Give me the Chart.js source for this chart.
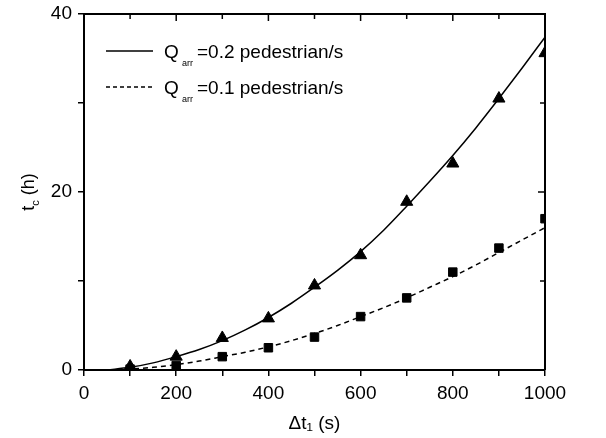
<!DOCTYPE html>
<html>
<head>
<meta charset="utf-8">
<script src="https://cdn.jsdelivr.net/npm/chart.js@4.4.1/dist/chart.umd.min.js"></script>
<style>
  html, body { margin: 0; padding: 0; background: #fff; }
  #box { width: 606px; height: 438px; }
</style>
</head>
<body>
<div id="box"><canvas id="grafico"></canvas></div>
<script>
// dados
const tempos = [100, 200, 300, 400, 500, 600, 700, 800, 900, 1000];
const pontosQ02 = [0.4, 1.5, 3.6, 5.8, 9.5, 12.9, 18.9, 23.2, 30.5, 35.6];
const pontosQ01 = [0.1, 0.5, 1.5, 2.5, 3.7, 6.0, 8.1, 11.0, 13.7, 17.0];

const temposCurva = [50, 100, 150, 200, 250, 300, 350, 400, 450, 500, 550, 600, 650, 700, 750, 800, 850, 900, 950, 1000];
const curvaQ02 = [0, 0.3, 0.8, 1.5, 2.3, 3.3, 4.5, 5.9, 7.5, 9.3, 11.2, 13.3, 15.7, 18.4, 21.2, 24.1, 27.2, 30.5, 33.9, 37.4];
const curvaQ01 = [0, 0.1, 0.3, 0.6, 1.0, 1.5, 2.0, 2.6, 3.3, 4.1, 5.0, 6.0, 7.0, 8.1, 9.3, 10.5, 11.8, 13.2, 14.6, 16.0];

const legendas = [
    { valor: '=0.2 pedestrian/s', tracejado: false },
    { valor: '=0.1 pedestrian/s', tracejado: true }
];

const fonte = '"Liberation Sans", Arial, sans-serif';

function pares(xs, ys) {
    return xs.map((x, i) => ({ x: x, y: ys[i] }));
}

// moldura superior/direita com ticks para dentro, titulo do eixo y e legenda
const moldura = {
    id: 'moldura',
    afterDraw(chart) {
        const ctx = chart.ctx;
        const a = chart.chartArea;
        const sx = chart.scales.x;
        const sy = chart.scales.y;
        ctx.save();
        ctx.strokeStyle = '#000';
        ctx.lineWidth = 2;
        ctx.beginPath();
        ctx.moveTo(a.left, a.top);
        ctx.lineTo(a.right, a.top);
        ctx.lineTo(a.right, a.bottom);
        ctx.stroke();
        ctx.lineWidth = 1.5;
        for (let v = 100; v < 1000; v += 100) {
            const px = sx.getPixelForValue(v);
            const len = v % 200 === 0 ? 7 : 5;
            ctx.beginPath();
            ctx.moveTo(px, a.top);
            ctx.lineTo(px, a.top + len);
            ctx.stroke();
        }
        for (let v = 10; v < 40; v += 10) {
            const py = sy.getPixelForValue(v);
            const len = v % 20 === 0 ? 7 : 5;
            ctx.beginPath();
            ctx.moveTo(a.right, py);
            ctx.lineTo(a.right - len, py);
            ctx.stroke();
        }

        // titulo do eixo y: t com subscrito c
        ctx.fillStyle = '#000';
        ctx.save();
        ctx.translate(34, (a.top + a.bottom) / 2);
        ctx.rotate(-Math.PI / 2);
        ctx.textBaseline = 'alphabetic';
        ctx.font = '18px ' + fonte;
        const wT = ctx.measureText('t').width;
        const wH = ctx.measureText(' (h)').width;
        ctx.font = '11px ' + fonte;
        const wC = ctx.measureText('c').width;
        let x0 = -(wT + wC + wH) / 2;
        ctx.font = '18px ' + fonte;
        ctx.fillText('t', x0, 0);
        ctx.font = '11px ' + fonte;
        ctx.fillText('c', x0 + wT, 5);
        ctx.font = '18px ' + fonte;
        ctx.fillText(' (h)', x0 + wT + wC, 0);
        ctx.restore();

        // legenda
        legendas.forEach((l, i) => {
            const y = 51 + i * 36;
            ctx.lineWidth = 1.3;
            ctx.setLineDash(l.tracejado ? [4, 3] : []);
            ctx.beginPath();
            ctx.moveTo(106, y);
            ctx.lineTo(153, y);
            ctx.stroke();
            ctx.setLineDash([]);
            ctx.textBaseline = 'alphabetic';
            ctx.font = '19px ' + fonte;
            ctx.fillText('Q', 164, y + 7);
            ctx.font = '9px ' + fonte;
            ctx.fillText('arr', 182, y + 15);
            ctx.font = '19px ' + fonte;
            ctx.fillText(l.valor, 197, y + 7);
        });
        ctx.restore();
    }
};

const ctx = document.getElementById('grafico').getContext('2d');
new Chart(ctx, {
    type: 'scatter',
    data: {
        datasets: [
            {
                label: 'Qarr=0.2 pedestrian/s',
                data: pares(temposCurva, curvaQ02),
                showLine: true,
                borderColor: '#000',
                borderWidth: 1.5,
                pointRadius: 0,
                cubicInterpolationMode: 'monotone'
            },
            {
                label: 'Qarr=0.1 pedestrian/s',
                data: pares(temposCurva, curvaQ01),
                showLine: true,
                borderColor: '#000',
                borderWidth: 1.5,
                borderDash: [5, 4],
                pointRadius: 0,
                cubicInterpolationMode: 'monotone'
            },
            {
                label: 'pontos Q=0.2',
                data: pares(tempos, pontosQ02),
                pointStyle: 'triangle',
                pointRadius: 7,
                backgroundColor: '#000',
                borderColor: '#000'
            },
            {
                label: 'pontos Q=0.1',
                data: pares(tempos, pontosQ01),
                pointStyle: 'rect',
                pointRadius: 6,
                backgroundColor: '#000',
                borderColor: '#000'
            }
        ]
    },
    options: {
        responsive: true,
        maintainAspectRatio: false,
        animation: false,
        layout: { padding: { top: 14, right: 61, left: 0, bottom: 0 } },
        plugins: {
            legend: { display: false },
            tooltip: { enabled: false }
        },
        scales: {
            x: {
                type: 'linear',
                min: 0,
                max: 1000,
                afterFit(scale) { scale.height = 68; scale.paddingRight = 0; scale.paddingLeft = 0; },
                border: { display: true, color: '#000', width: 2 },
                grid: {
                    drawOnChartArea: false,
                    color: '#000',
                    lineWidth: 1.5,
                    tickLength: 6
                },
                ticks: {
                    stepSize: 100,
                    autoSkip: false,
                    maxRotation: 0,
                    padding: 6,
                    color: '#000',
                    font: { family: fonte, size: 19 },
                    callback: v => (v % 200 === 0 ? v : '')
                },
                title: {
                    display: true,
                    text: 'Δt₁ (s)',
                    color: '#000',
                    font: { family: fonte, size: 19 },
                    padding: { top: 2, bottom: 3 }
                }
            },
            y: {
                min: 0,
                max: 40,
                afterFit(scale) { scale.width = 84; scale.paddingTop = 0; scale.paddingBottom = 0; },
                border: { display: true, color: '#000', width: 2 },
                grid: {
                    drawOnChartArea: false,
                    color: '#000',
                    lineWidth: 1.5,
                    tickLength: 6
                },
                ticks: {
                    stepSize: 10,
                    padding: 6,
                    color: '#000',
                    font: { family: fonte, size: 19 },
                    callback: v => (v % 20 === 0 ? v : '')
                },
                title: { display: false }
            }
        }
    },
    plugins: [moldura]
});
</script>
</body>
</html>
